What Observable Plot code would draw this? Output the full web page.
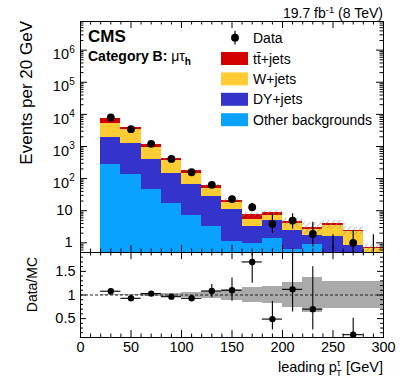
<!DOCTYPE html>
<html><head><meta charset="utf-8">
<script src="https://cdn.jsdelivr.net/npm/d3@7"></script>
<script src="https://cdn.jsdelivr.net/npm/@observablehq/plot@0.6"></script>
<style>
body{margin:0;background:#fff;}
#wrap{position:relative;width:407px;height:383px;overflow:hidden;background:#fff}
#wrap svg{position:absolute;left:0;overflow:visible}
</style></head><body><div id="wrap"></div>
<script>
// ---------------- data ----------------
const binLow = [20,40,60,80,100,120,140,160,180,200,220,240,260,280];
const binWidth = 20;
const otherBkg = [275, 131, 45, 16.3, 7.2, 3.3, 1.1, 0.95, 1.4, 0.63, 0.88, 0.2, 0.1, 0.05];
const dyJets   = [1600, 1130, 355, 131, 57, 24, 9.6, 2.3, 3.6, 1.8, 0.8, 1.4, 0.7, 0.4];
const wJets    = [3230, 2200, 550, 218, 83, 23, 7.3, 2.0, 2.1, 1.5, 1.0, 1.9, 1.5, 0.2];
const ttJets   = [2500, 440, 200, 49, 27, 10, 3.0, 2.3, 1.4, 0.7, 0.4, 0.4, 0.15, 0.05];
const mcRelUnc = [0.01, 0.015, 0.025, 0.035, 0.05, 0.08, 0.12, 0.16, 0.18, 0.27, 0.38, 0.28, 0.28, 0.28];

const dataX    = [30,50,70,90,110,130,150,170,190,210,230,250,270,290];
const dataVal  = [8000, 3460, 1210, 410, 158, 64, 23, 12.9, 3.9, 4.95, 1.9, 0, 1.0, 0];
const dataLow  = [7910, 3400, 1175, 390, 146, 56, 18.5, 9.3, 2.0, 2.7, 0.73, 0, 0.17, 0];
const dataHigh = [8090, 3520, 1245, 430, 170, 72, 28, 17, 8.0, 8.0, 4.4, 1.8, 2.4, 1.8];

const ratioX    = [30,50,70,90,110,130,150,170,190,210,230,270];
const ratioVal  = [1.08, 0.93, 1.03, 0.965, 0.93, 1.085, 1.10, 1.70, 0.49, 1.12, 0.70, 0.16];
const ratioLow  = [1.05, 0.91, 1.01, 0.94, 0.89, 0.94, 0.87, 1.25, 0.26, 0.64, 0.26, 0.0];
const ratioHigh = [1.11, 0.95, 1.05, 0.99, 0.97, 1.225, 1.36, 2.3, 0.86, 1.95, 1.60, 0.51];

const seriesNames  = ["Other backgrounds", "DY+jets", "W+jets", "t\u0074\u0304+jets"];
const seriesColors = ["#0aa2ff", "#3434cc", "#ffcc33", "#d40000"];
const seriesValues = [otherBkg, dyJets, wJets, ttJets];

const xTicks = [0,50,100,150,200,250,300];
const logTicks = [1,10,100,1000,10000,100000,1000000];
const logExp = ["","","2","3","4","5","6"];
const ratioTicks = [0.5, 1, 1.5];

// ---------------- derived tables ----------------
const FONT = '"Liberation Sans", Arial, Helvetica, sans-serif';
const stackRows = [];
const totals = [];
binLow.forEach((lo, i) => {
  let base = 0;
  seriesValues.forEach((vals, s) => {
    stackRows.push({s, x1: lo, x2: lo + binWidth, y1: Math.max(base, 1e-3), y2: base + vals[i]});
    base += vals[i];
  });
  totals.push({x1: lo, x2: lo + binWidth, total: base, u: mcRelUnc[i]});
});
const dataRows = dataX.map((x, i) => ({x, val: dataVal[i], lo: dataLow[i], hi: dataHigh[i]}));
const ratioRows = ratioX.map((x, i) => ({x, val: ratioVal[i], lo: ratioLow[i], hi: ratioHigh[i]}));

const logMinor = [];
for (let k = -1; k <= 6; k++) for (let m = 2; m <= 9; m++) {
  const v = m * Math.pow(10, k);
  if (v > 0.5 && v < 7.8e6) logMinor.push(v);
}
const xMinor = d3.range(0, 301, 10).filter(v => v % 50 !== 0);
const ratioMinor = d3.range(1, 19).map(i => i / 10).filter(v => ![0.5,1,1.5].some(t => Math.abs(t - v) < 1e-9));

const W = 407;
const FW = 303;      // frame width
const MH = 231;      // main frame height
const RH = 85;       // ratio frame height

// ---------------- main panel ----------------
const main = Plot.plot({
  width: W, height: 254,
  marginLeft: 80, marginRight: 24, marginTop: 21, marginBottom: 2,
  style: {fontFamily: FONT, fontSize: "14px", background: "transparent", color: "black", overflow: "visible"},
  x: {domain: [0, 300], axis: null},
  y: {type: "log", domain: [0.5, 7.8e6], axis: null},
  marks: [
    ...seriesColors.map((c, s) => Plot.rect(stackRows.filter(r => r.s === s),
      {x1: "x1", x2: "x2", y1: "y1", y2: "y2", fill: c, clip: true, shapeRendering: "crispEdges"})),
    Plot.rect(totals, {x1: "x1", x2: "x2", y1: d => d.total * (1 - d.u), y2: d => d.total * (1 + d.u), fill: "url(#mcHatch)", clip: true}),
    Plot.ruleX(dataRows, {x: "x", y1: d => Math.max(d.lo, 0.01), y2: "hi", stroke: "black", strokeWidth: 1.2, clip: true}),
    Plot.dot(dataRows.filter(d => d.val > 0), {x: "x", y: "val", r: 3.9, fill: "black", stroke: null}),
    // y ticks
    Plot.tickY(logTicks, {y: d => d, insetRight: FW - 7, stroke: "black"}),
    Plot.tickY(logTicks, {y: d => d, insetLeft: FW - 7, stroke: "black"}),
    Plot.tickY(logMinor, {y: d => d, insetRight: FW - 3.5, stroke: "black"}),
    Plot.tickY(logMinor, {y: d => d, insetLeft: FW - 3.5, stroke: "black"}),
    // x ticks
    Plot.tickX(xTicks, {x: d => d, insetTop: MH - 7, stroke: "black"}),
    Plot.tickX(xTicks, {x: d => d, insetBottom: MH - 7, stroke: "black"}),
    Plot.tickX(xMinor, {x: d => d, insetTop: MH - 3.5, stroke: "black"}),
    Plot.tickX(xMinor, {x: d => d, insetBottom: MH - 3.5, stroke: "black"}),
    Plot.frame({stroke: "black"}),
    // y tick labels
    Plot.text(logTicks.filter((d, i) => logExp[i] === ""), {y: d => d, frameAnchor: "left", dx: -8, textAnchor: "end", text: d => String(d), fontSize: 14.5, fill: "black"}),
    Plot.text(logTicks.filter((d, i) => logExp[i] !== ""), {y: d => d, frameAnchor: "left", dx: -11.5, dy: 4.5, textAnchor: "end", text: () => "10", fontSize: 14.5, fill: "black"}),
    Plot.text(logTicks.filter((d, i) => logExp[i] !== ""), {y: d => d, frameAnchor: "left", dx: -11.2, dy: -0.5, textAnchor: "start", text: d => logExp[logTicks.indexOf(d)], fontSize: 10, fill: "black"})
  ]
});

// ---------------- ratio panel ----------------
const ratio = Plot.plot({
  width: W, height: 133,
  marginLeft: 80, marginRight: 24, marginTop: 2, marginBottom: 46,
  style: {fontFamily: FONT, fontSize: "14px", background: "transparent", color: "black", overflow: "visible"},
  x: {domain: [0, 300], axis: null},
  y: {domain: [0.1, 1.9], axis: null},
  marks: [
    Plot.rect(totals, {x1: "x1", x2: "x2", y1: d => 1 - d.u, y2: d => 1 + d.u, fill: "#aaaaaa", shapeRendering: "crispEdges"}),
    Plot.ruleY([1], {stroke: "#222", strokeDasharray: "3,2"}),
    Plot.ruleX(ratioRows, {x: "x", y1: "lo", y2: "hi", stroke: "black", strokeWidth: 1.1, clip: true}),
    Plot.ruleY(ratioRows, {y: "val", x1: d => d.x - binWidth / 2, x2: d => d.x + binWidth / 2, stroke: "black", strokeWidth: 1.1, clip: true}),
    Plot.dot(ratioRows, {x: "x", y: "val", r: 3.2, fill: "black", stroke: null}),
    Plot.tickY(ratioTicks, {y: d => d, insetRight: FW - 6, stroke: "black"}),
    Plot.tickY(ratioTicks, {y: d => d, insetLeft: FW - 6, stroke: "black"}),
    Plot.tickY(ratioMinor, {y: d => d, insetRight: FW - 3, stroke: "black"}),
    Plot.tickY(ratioMinor, {y: d => d, insetLeft: FW - 3, stroke: "black"}),
    Plot.tickX(xTicks, {x: d => d, insetTop: RH - 7, stroke: "black"}),
    Plot.tickX(xTicks, {x: d => d, insetBottom: RH - 7, stroke: "black"}),
    Plot.tickX(xMinor, {x: d => d, insetTop: RH - 3.5, stroke: "black"}),
    Plot.tickX(xMinor, {x: d => d, insetBottom: RH - 3.5, stroke: "black"}),
    Plot.frame({stroke: "black"}),
    Plot.text(ratioTicks, {y: d => d, frameAnchor: "left", dx: -5, textAnchor: "end", text: d => String(d), fontSize: 14.5, fill: "black"}),
    Plot.text(xTicks, {x: d => d, frameAnchor: "bottom", dy: 4, lineAnchor: "top", text: d => String(d), fontSize: 14.5, fill: "black"})
  ]
});

const wrap = document.getElementById("wrap");
main.style.top = "0px";
ratio.style.top = "250px";
wrap.appendChild(main);
wrap.appendChild(ratio);

// hatch pattern for MC uncertainty
const defs = d3.select(main).insert("defs", ":first-child");
const pat = defs.append("pattern").attr("id", "mcHatch").attr("patternUnits", "userSpaceOnUse")
  .attr("width", 4).attr("height", 4).attr("patternTransform", "rotate(45)");
pat.append("line").attr("x1", 0).attr("y1", 0).attr("x2", 0).attr("y2", 4)
  .attr("stroke", "#8a8a8a").attr("stroke-width", 1.1);

// ---------------- annotations ----------------
function txt(svg, x, y, parts, {size = 14, anchor = "start", weight = "normal", rotate = 0} = {}) {
  const t = d3.select(svg).append("text").attr("x", x).attr("y", y)
    .attr("font-size", size).attr("font-weight", weight).attr("text-anchor", anchor)
    .attr("font-family", FONT).attr("fill", "black");
  if (rotate) t.attr("transform", `rotate(${rotate},${x},${y})`);
  let shift = 0;
  for (const p of parts) {
    const s = typeof p === "string" ? {t: p} : p;
    const sh = s.shift || 0;
    const ts = t.append("tspan").attr("dy", sh - shift).text(s.t);
    if (s.size) ts.attr("font-size", s.size);
    if (s.weight) ts.attr("font-weight", s.weight);
    if (s.dx) ts.attr("dx", s.dx);
    shift = sh;
  }
  return t;
}

txt(main, 383, 18, ["19.7 fb", {t: "-1", size: 9.5, shift: -5}, {t: " (8 TeV)", shift: 0}], {anchor: "end"});
txt(main, 88, 42, ["CMS"], {size: 17, weight: "bold"});
txt(main, 88, 61, ["Category B: ", {t: "\u03bc\u03c4", weight: "normal"}, {t: "h", size: 10, shift: 4}], {size: 14, weight: "bold"});
txt(main, 32, 21, ["Events per 20 GeV"], {size: 17, anchor: "end", rotate: -90});
txt(ratio, 37, 7, ["Data/MC"], {size: 14, anchor: "end", rotate: -90});
txt(ratio, 383, 122, ["leading p", {t: "\u03c4", size: 9.5, shift: -6}, {t: "T", size: 9.5, shift: 4, dx: -4.5}, {t: " [GeV]", shift: 0}], {anchor: "end", size: 14.5});

// legend
const lg = d3.select(main).append("g");
lg.append("line").attr("x1", 235).attr("x2", 235).attr("y1", 31).attr("y2", 44.5).attr("stroke", "black").attr("stroke-width", 1.2);
lg.append("circle").attr("cx", 235).attr("cy", 37.7).attr("r", 3.9).attr("fill", "black");
txt(main, 253, 42.5, ["Data"], {size: 14});
const legOrder = [3, 2, 1, 0];
legOrder.forEach((s, i) => {
  const y = 52 + i * 20.4;
  lg.append("rect").attr("x", 221).attr("y", y).attr("width", 27).attr("height", 13).attr("fill", seriesColors[s]);
  txt(main, 253, y + 11.5, [seriesNames[s]], {size: 14});
});
</script></body></html>
